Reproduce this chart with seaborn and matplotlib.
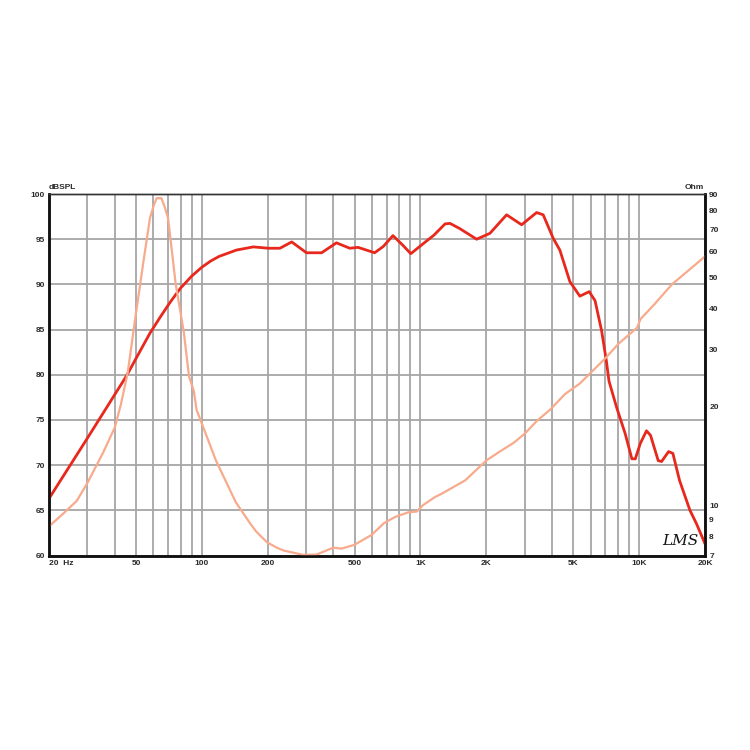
import matplotlib
matplotlib.use("Agg")
import matplotlib.pyplot as plt
import pandas as pd
import seaborn as sns

# frequency response (dB SPL)
spl_freq = [20, 30, 45.3, 50, 57.9, 65, 72, 80, 90, 100, 110, 120, 144, 172,
            202, 227.6, 257.6, 301, 353, 412.6, 475, 518, 617, 676, 748, 829,
            903, 1028, 1152, 1296, 1364, 1506, 1806, 2077, 2476, 2900, 3396,
            3640, 4045, 4337, 4822, 5355, 5911, 6283, 6730, 7082, 7278, 7883,
            8627, 9260, 9600, 10120, 10800, 11270, 12220, 12660, 13630, 14260,
            15300, 17070, 18300, 20000]
spl_db = [66.3, 73.0, 79.9, 81.8, 84.6, 86.5, 88.1, 89.6, 90.93, 91.9, 92.6,
          93.1, 93.8, 94.15, 94.0, 94.0, 94.7, 93.5, 93.5, 94.6, 94.0, 94.1,
          93.5, 94.2, 95.4, 94.35, 93.4, 94.5, 95.45, 96.7, 96.75, 96.2, 95.0,
          95.65, 97.7, 96.6, 97.95, 97.7, 95.1, 93.8, 90.3, 88.7, 89.2, 88.2,
          84.9, 81.5, 79.3, 76.4, 73.5, 70.7, 70.7, 72.4, 73.8, 73.3, 70.5,
          70.4, 71.5, 71.3, 68.3, 65.0, 63.5, 61.3]

# impedance (Ohm)
imp_freq = [20, 23.2, 26.8, 30, 35.4, 40, 42.6, 45.8, 49.5, 54.0, 57.9, 60.3,
            62.2, 65.3, 67.5, 70.1, 75.9, 82.8, 87.4, 91.9, 94.6, 99, 116, 143,
            166, 177, 198, 220, 237, 291, 335, 399, 436, 499, 598, 681, 767,
            880, 961, 1028, 1170, 1240, 1600, 2000, 2307, 2660, 3010, 3400,
            3910, 4580, 5355, 6965, 8066, 9780, 10140, 11780, 14100, 20000]
imp_ohm = [8.6, 9.4, 10.3, 11.7, 14.5, 17.3, 20.3, 25.4, 37.0, 55.5, 75.9, 83.1,
           87.4, 87.4, 82.5, 75.9, 47.8, 33.8, 24.8, 22.4, 19.6, 18.1, 13.7, 10.2,
           8.8, 8.3, 7.7, 7.4, 7.25, 7.03, 7.05, 7.4, 7.35, 7.55, 8.1, 8.8, 9.2,
           9.5, 9.55, 10.0, 10.6, 10.8, 11.9, 13.7, 14.6, 15.5, 16.6, 18.1,
           19.6, 21.9, 23.6, 28.1, 31.3, 35.0, 37.2, 41.4, 47.5, 57.9]

x_ticks = [20, 50, 100, 200, 500, 1000, 2000, 5000, 10000, 20000]
x_labels = ["20  Hz", "50", "100", "200", "500", "1K", "2K", "5K", "10K", "20K"]
db_ticks = [60, 65, 70, 75, 80, 85, 90, 95, 100]
ohm_ticks = [7, 8, 9, 10, 20, 30, 40, 50, 60, 70, 80, 90]

RED = "#E8281C"
SALMON = "#F8AA8C"
GRID = "#A6A6A6"
TXT = "#2a2a2a"

sns.set_style("white")
plt.rcParams["font.family"] = ["Liberation Sans", "DejaVu Sans"]

spl = pd.DataFrame({"freq": spl_freq, "db": spl_db})
imp = pd.DataFrame({"freq": imp_freq, "ohm": imp_ohm})

fig = plt.figure(figsize=(7.5, 7.5), dpi=100)
ax = fig.add_axes([0.0653, 0.2593, 0.8747, 0.482])
ax2 = ax.twinx()

sns.lineplot(data=spl, x="freq", y="db", ax=ax, color=RED, linewidth=2.0,
             sort=False, zorder=3)
sns.lineplot(data=imp, x="freq", y="ohm", ax=ax2, color=SALMON, linewidth=1.6,
             sort=False, zorder=2)

ax.set_xscale("log")
ax.set_xlim(20, 20000)
ax.set_ylim(60, 100)
ax2.set_yscale("log")
ax2.set_ylim(7, 90)

ax.set_xticks(x_ticks)
ax.set_xticklabels(x_labels)
ax.set_yticks(db_ticks)
ax.set_yticklabels([str(v) for v in db_ticks])
ax2.set_yticks(ohm_ticks)
ax2.set_yticklabels([str(v) for v in ohm_ticks])
ax2.yaxis.set_minor_locator(matplotlib.ticker.NullLocator())

ax.grid(True, which="both", axis="x", color=GRID, linewidth=1.3)
ax.grid(True, which="major", axis="y", color=GRID, linewidth=1.3)
ax.set_axisbelow(True)

ax.tick_params(axis="both", which="both", length=0, labelsize=6,
               labelcolor=TXT, pad=3)
ax2.tick_params(axis="y", which="both", length=0, labelsize=6,
                labelcolor=TXT, pad=3)
for lab in ax.get_xticklabels() + ax.get_yticklabels() + ax2.get_yticklabels():
    lab.set_fontweight("bold")
ax.get_xticklabels()[0].set_ha("left")

ax.set_xlabel("")
ax.set_ylabel("")
ax2.set_ylabel("")

for a in (ax, ax2):
    for side in ["left", "bottom", "right"]:
        a.spines[side].set_color("#111111")
        a.spines[side].set_linewidth(1.8)
    a.spines["top"].set_color("#333333")
    a.spines["top"].set_linewidth(1.0)

ax.text(0.0, 1.008, "dBSPL", transform=ax.transAxes, ha="left", va="bottom",
        fontsize=6, fontweight="bold", color=TXT)
ax.text(0.998, 1.008, "Ohm", transform=ax.transAxes, ha="right", va="bottom",
        fontsize=6, fontweight="bold", color=TXT)
ax.text(0.935, 0.02, "LMS", transform=ax.transAxes, ha="left", va="bottom",
        fontsize=11, color="#111111", style="italic", family="DejaVu Serif")

fig.savefig("out.png", dpi=100, facecolor="white")
